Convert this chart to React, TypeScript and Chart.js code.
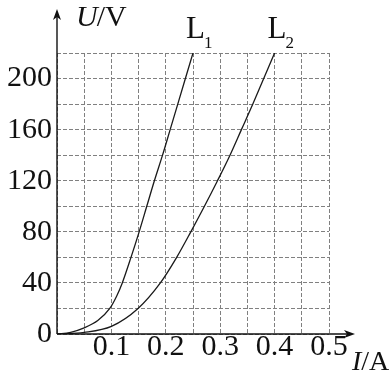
import { useEffect, useRef } from 'react';
import { Chart, registerables } from 'chart.js';

Chart.register(...registerables);

// Tick labels
const xTickLabels = ['0.1', '0.2', '0.3', '0.4', '0.5'];
const yTickLabels = ['0', '40', '80', '120', '160', '200'];

// Axis ranges / grid steps
const xMax = 0.5;
const xStep = 0.05;
const yMax = 220;
const yStep = 20;

// Curve L1 (I in A, U in V)
const l1Current = [0, 0.025, 0.05, 0.075, 0.097, 0.11, 0.12, 0.136, 0.151, 0.165, 0.179, 0.194, 0.208, 0.222, 0.236, 0.25];
const l1Voltage = [0, 1.3, 4.8, 10.5, 20, 30, 40, 60, 80, 100, 120, 140, 160, 180, 200, 220];

// Curve L2
const l2Current = [0, 0.05, 0.1, 0.149, 0.19, 0.22, 0.246, 0.271, 0.295, 0.318, 0.339, 0.36, 0.38, 0.4];
const l2Voltage = [0, 1.3, 6, 20, 40, 60, 80, 100, 120, 140, 160, 180, 200, 220];

const seriesNames = ['L', 'L'];
const seriesSubs = ['1', '2'];

const SERIF = '"Liberation Serif", "Times New Roman", serif';

const decorPlugin = {
  id: 'decor',
  afterDraw(chart: any) {
    const { ctx, scales } = chart;
    const x = scales.x;
    const y = scales.y;
    const x0 = x.getPixelForValue(0);
    const y0 = y.getPixelForValue(0);
    const yTop = y.getPixelForValue(yMax) - 44;
    const xEnd = x.getPixelForValue(xMax) + 26;
    ctx.save();
    ctx.strokeStyle = '#111';
    ctx.fillStyle = '#111';
    ctx.lineWidth = 1.4;
    // y axis
    ctx.beginPath();
    ctx.moveTo(x0, y0);
    ctx.lineTo(x0, yTop + 6);
    ctx.stroke();
    ctx.beginPath();
    ctx.moveTo(x0, yTop);
    ctx.lineTo(x0 - 4, yTop + 11);
    ctx.lineTo(x0, yTop + 8);
    ctx.lineTo(x0 + 4, yTop + 11);
    ctx.closePath();
    ctx.fill();
    // x axis
    ctx.beginPath();
    ctx.moveTo(x0, y0);
    ctx.lineTo(xEnd - 6, y0);
    ctx.stroke();
    ctx.beginPath();
    ctx.moveTo(xEnd, y0);
    ctx.lineTo(xEnd - 11, y0 - 4);
    ctx.lineTo(xEnd - 8, y0);
    ctx.lineTo(xEnd - 11, y0 + 4);
    ctx.closePath();
    ctx.fill();

    ctx.textBaseline = 'alphabetic';
    ctx.textAlign = 'left';
    // U/V
    ctx.font = `italic 30px ${SERIF}`;
    let tx = x0 + 19;
    ctx.fillText('U', tx, yTop + 17);
    tx += ctx.measureText('U').width;
    ctx.font = `30px ${SERIF}`;
    ctx.fillText('/V', tx - 1, yTop + 17);

    // I/A
    ctx.font = `italic 28px ${SERIF}`;
    tx = xEnd - 3;
    const ty = y0 + 36;
    ctx.fillText('I', tx, ty);
    tx += ctx.measureText('I').width;
    ctx.font = `28px ${SERIF}`;
    ctx.fillText('/A', tx, ty);

    // Curve labels
    const ends = [l1Current[l1Current.length - 1], l2Current[l2Current.length - 1]];
    ends.forEach((c, i) => {
      const px = x.getPixelForValue(c);
      const lx = px - 7;
      const ly = y.getPixelForValue(yMax) - 15;
      ctx.font = `31px ${SERIF}`;
      ctx.fillText(seriesNames[i], lx, ly);
      const w = ctx.measureText(seriesNames[i]).width;
      ctx.font = `17px ${SERIF}`;
      ctx.fillText(seriesSubs[i], lx + w - 1, ly + 10);
    });
    ctx.restore();
  },
};

export default function App() {
  const ref = useRef<HTMLCanvasElement>(null);
  useEffect(() => {
    if (!ref.current) return;
    const chart = new Chart(ref.current, {
      type: 'line',
      data: {
        datasets: [
          {
            label: 'L1',
            data: l1Current.map((c, i) => ({ x: c, y: l1Voltage[i] })),
            borderColor: '#1a1a1a',
            borderWidth: 1.3,
            pointRadius: 0,
            cubicInterpolationMode: 'monotone',
            fill: false,
          },
          {
            label: 'L2',
            data: l2Current.map((c, i) => ({ x: c, y: l2Voltage[i] })),
            borderColor: '#1a1a1a',
            borderWidth: 1.3,
            pointRadius: 0,
            cubicInterpolationMode: 'monotone',
            fill: false,
          },
        ],
      },
      options: {
        responsive: false,
        animation: false,
        events: [],
        layout: { padding: { left: 0, top: 53, right: 63, bottom: 0 } },
        plugins: {
          legend: { display: false },
          tooltip: { enabled: false },
          title: { display: false },
        },
        scales: {
          x: {
            type: 'linear',
            min: 0,
            max: xMax,
            afterFit: (s: any) => {
              s.height = 41;
            },
            ticks: {
              stepSize: xStep,
              autoSkip: false,
              maxRotation: 0,
              padding: 0,
              color: '#111',
              font: { family: SERIF, size: 30, lineHeight: 0.9 },
              callback: (v: any) => {
                const i = Math.round(Number(v) / xStep);
                if (i > 0 && i % 2 === 0) return xTickLabels[i / 2 - 1] ?? '';
                return '';
              },
            },
            grid: { color: '#808080', lineWidth: 1, drawTicks: false },
            border: { display: false, dash: [4, 2] },
          },
          y: {
            type: 'linear',
            min: 0,
            max: yMax,
            afterFit: (s: any) => {
              s.width = 57;
            },
            ticks: {
              stepSize: yStep,
              autoSkip: false,
              padding: 5,
              color: '#111',
              font: { family: SERIF, size: 30, lineHeight: 1 },
              callback: (v: any) => {
                const i = Math.round(Number(v) / yStep);
                if (i % 2 === 0) return yTickLabels[i / 2] ?? '';
                return '';
              },
            },
            grid: { color: '#808080', lineWidth: 1, drawTicks: false },
            border: { display: false, dash: [4, 2] },
          },
        },
      },
      plugins: [decorPlugin],
    });
    return () => chart.destroy();
  }, []);
  return (
    <div style={{ position: 'absolute', left: 0, top: 0, width: 392, height: 375, background: '#fff' }}>
      <canvas ref={ref} width={392} height={375} />
    </div>
  );
}
